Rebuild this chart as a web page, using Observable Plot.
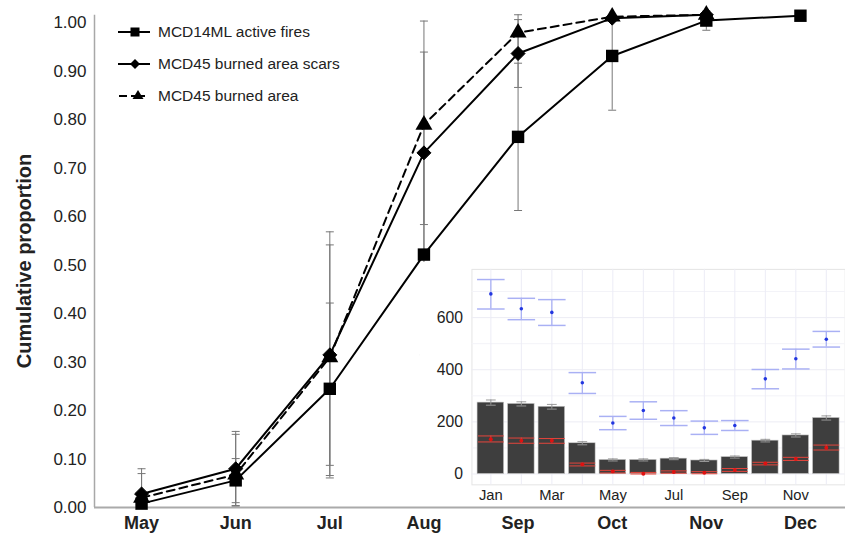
<!DOCTYPE html>
<html><head><meta charset="utf-8">
<script src="https://cdn.jsdelivr.net/npm/d3@7"></script>
<script src="https://cdn.jsdelivr.net/npm/@observablehq/plot@0.6"></script>
<style>
html,body{margin:0;padding:0;background:#fff;overflow:hidden;}
#wrap{position:relative;width:845px;height:535px;font-family:"Liberation Sans",Arial,Helvetica,sans-serif;color:#222;}
#main{position:absolute;left:0;top:0;}
#inset{position:absolute;left:420px;top:262px;}
.lg{position:absolute;left:158px;font-size:15.5px;line-height:1;white-space:nowrap;transform:translateY(-50%);}
#ylab{position:absolute;left:24px;top:261px;transform:translate(-50%,-50%) rotate(-90deg);font-weight:bold;font-size:20px;white-space:nowrap;}
#lgsvg{position:absolute;left:0;top:0;}
</style></head><body>
<div id="wrap">
  <div id="main"></div>
  <div id="inset"></div>
  <div id="ylab">Cumulative proportion</div>
  <svg id="lgsvg" width="160" height="110"></svg>
  <div class="lg" style="top:32px">MCD14ML active fires</div>
  <div class="lg" style="top:64px">MCD45 burned area scars</div>
  <div class="lg" style="top:96px">MCD45 burned area</div>
</div>
<script>
// ---------- main chart data ----------
const months = ["May","Jun","Jul","Aug","Sep","Oct","Nov","Dec"];
const yTicks = [0,0.1,0.2,0.3,0.4,0.5,0.6,0.7,0.8,0.9,1.0];

const activeFires   = [0.008,0.056,0.245,0.522,0.765,0.932,1.005,1.015];
const activeFiresLo = [null, 0.010,0.066,0.315,0.613,0.820,0.985,null];
const activeFiresHi = [null, 0.101,0.422,0.729,0.917,1.015,1.025,null];

const scars   = [0.028,0.080,0.315,0.732,0.937,1.010,1.017];
const scarsLo = [0.000,0.003,0.061,0.524,0.867,null,null];
const scarsHi = [0.080,0.157,0.569,0.940,1.007,null,null];

const burned   = [0.020,0.068,0.310,0.790,0.980,1.013,1.017];
const burnedLo = [0.000,0.004,0.087,0.584,0.943,null,null];
const burnedHi = [0.070,0.151,0.542,1.004,1.017,null,null];

// ---------- inset data ----------
const insetMonths = ["Jan","Feb","Mar","Apr","May","Jun","Jul","Aug","Sep","Oct","Nov","Dec"];
const insetLabels = ["Jan","Mar","May","Jul","Sep","Nov"];
const insetTicks = [0,200,400,600];
const insetMinor = [100,300,500,700];
const barValues = [274,269,258,118,54,54,59,52,65,128,148,215];
const barErr    = [10,8,9,6,4,4,4,4,4,5,6,8];
const redMean = [133,128,128,37,10,1,8,5,15,40,58,101];
const redLo   = [123,118,118,31,4,0,3,1,10,35,52,92];
const redHi   = [146,138,136,42,14,6,12,9,21,45,64,111];
const blueMean = [691,634,620,350,196,244,215,177,186,365,442,517];
const blueLo   = [633,592,570,309,170,210,186,152,167,327,403,487];
const blueHi   = [746,674,669,389,221,277,243,203,205,401,479,547];

// ---------- build ----------
const FONT = '"Liberation Sans",Arial,Helvetica,sans-serif';
const capSymbol = {draw(ctx, size){ const w = Math.sqrt(size); ctx.moveTo(-w/2,0); ctx.lineTo(w/2,0); }};

const mk = (v, lo, hi) => v.map((d,i)=>({i, v:d, lo:lo[i], hi:hi[i]}));
const sq = mk(activeFires, activeFiresLo, activeFiresHi);
const di = mk(scars, scarsLo, scarsHi);
const tr = mk(burned, burnedLo, burnedHi);
const errRows = [...sq, ...di, ...tr].filter(d => d.lo != null);
const capRows = errRows.flatMap(d => [{i:d.i, y:d.lo}, {i:d.i, y:d.hi}]);

const main = Plot.plot({
  width: 845, height: 535,
  marginLeft: 94, marginRight: 0, marginTop: 0, marginBottom: 28,
  x: {domain: [-0.5, 7.5], range: [94, 847]},
  y: {domain: [0, 1], range: [507, 22.5]},
  style: {fontFamily: FONT, background: "transparent", color: "#222", overflow: "visible"},
  marks: [
    Plot.ruleY([0], {stroke: "#aaa", strokeWidth: 2}),
    Plot.ruleX([-0.5], {y1: 0, y2: 1.016, stroke: "#a8a8a8", strokeWidth: 1.5}),
    Plot.ruleX(errRows, {x: "i", y1: "lo", y2: "hi", stroke: "#777", strokeWidth: 1}),
    Plot.dot(capRows, {x: "i", y: "y", symbol: capSymbol, r: 4.5, stroke: "#777", strokeWidth: 1}),
    Plot.line(sq, {x: "i", y: "v", stroke: "black", strokeWidth: 2}),
    Plot.line(di, {x: "i", y: "v", stroke: "black", strokeWidth: 2}),
    Plot.line(tr, {x: "i", y: "v", stroke: "black", strokeWidth: 2, strokeDasharray: "8,5"}),
    Plot.dot(sq, {x: "i", y: "v", symbol: "square", r: 7, fill: "black"}),
    Plot.dot(tr, {x: "i", y: "v", symbol: "triangle", r: 6.3, fill: "black"}),
    Plot.dot(di, {x: "i", y: "v", symbol: "diamond2", r: 6.3, fill: "black", stroke: "black", strokeWidth: 1}),
    Plot.axisY(yTicks, {tickSize: 0, tickPadding: 8, tickFormat: d => d.toFixed(2), fontSize: 17, label: null}),
    Plot.axisX(d3.range(8), {tickSize: 0, tickPadding: 9, tickFormat: i => months[i], fontSize: 18, fontWeight: "bold", label: null})
  ]
});
document.getElementById("main").appendChild(main);

// inset
const rows = insetMonths.map((m,i)=>({m, bar: barValues[i], bl: barValues[i]-barErr[i], bh: barValues[i]+barErr[i],
  rm: redMean[i], rl: redLo[i], rh: redHi[i], bm: blueMean[i], bul: blueLo[i], buh: blueHi[i]}));
const capsOf = (lo, hi) => rows.flatMap(d => [{m: d.m, y: d[lo]}, {m: d.m, y: d[hi]}]);

const inset = Plot.plot({
  width: 432, height: 243,
  marginLeft: 52.3, marginRight: 0.3, marginTop: 7, marginBottom: 17,
  x: {type: "band", domain: insetMonths, paddingInner: 0.12, paddingOuter: 0.16},
  y: {domain: [-41.5, 785]},
  style: {fontFamily: FONT, background: "white", color: "#222", overflow: "visible"},
  marks: [
    Plot.frame({fill: "white", stroke: "#e4e4e4"}),
    Plot.ruleY(insetMinor, {stroke: "#f3f3f8", strokeWidth: 1}),
    Plot.ruleY(insetTicks, {stroke: "#ececf4", strokeWidth: 1}),
    Plot.ruleX(insetMonths, {x: d => d, stroke: "#ececf6", strokeWidth: 1}),
    Plot.barY(rows, {x: "m", y: "bar", fill: "#3e3e3e", stroke: "#c8c8c8", strokeWidth: 0.6}),
    Plot.ruleX(rows, {x: "m", y1: "bl", y2: "bh", stroke: "#999", strokeWidth: 1}),
    Plot.dot(capsOf("bl","bh"), {x: "m", y: "y", symbol: capSymbol, r: 5.6, stroke: "#999", strokeWidth: 1}),
    Plot.ruleX(rows, {x: "m", y1: "rl", y2: "rh", stroke: "#e23a30", strokeWidth: 1}),
    Plot.dot(capsOf("rl","rh"), {x: "m", y: "y", symbol: capSymbol, r: 14.8, stroke: "#e8453c", strokeWidth: 1}),
    Plot.dot(rows, {x: "m", y: "rm", r: 2, fill: "#e01010"}),
    Plot.ruleX(rows, {x: "m", y1: "bul", y2: "buh", stroke: "#a9b0f4", strokeWidth: 1.3}),
    Plot.dot(capsOf("bul","buh"), {x: "m", y: "y", symbol: capSymbol, r: 15.8, stroke: "#a9b0f4", strokeWidth: 1.5}),
    Plot.dot(rows, {x: "m", y: "bm", r: 1.8, fill: "#2236e0"}),
    Plot.axisY(insetTicks, {tickSize: 0, tickPadding: 9, fontSize: 16, label: null}),
    Plot.axisX(insetLabels, {tickSize: 0, tickPadding: 5, fontSize: 15, label: null})
  ]
});
document.getElementById("inset").appendChild(inset);

// legend symbols
const lg = d3.select("#lgsvg");
[32, 64].forEach(y => lg.append("line").attr("x1",118).attr("x2",150).attr("y1",y).attr("y2",y).attr("stroke","black").attr("stroke-width",2));
lg.append("rect").attr("x",130.5).attr("y",27.5).attr("width",9).attr("height",9).attr("fill","black");
lg.append("path").attr("d","M135,59 L140,64 L135,69 L130,64 Z").attr("fill","black");
lg.append("line").attr("x1",119).attr("x2",127).attr("y1",96).attr("y2",96).attr("stroke","black").attr("stroke-width",2);
lg.append("line").attr("x1",131).attr("x2",145).attr("y1",96).attr("y2",96).attr("stroke","black").attr("stroke-width",2);
lg.append("path").attr("d","M138,90 L143.5,99 L132.5,99 Z").attr("fill","black");
</script>
</body></html>
